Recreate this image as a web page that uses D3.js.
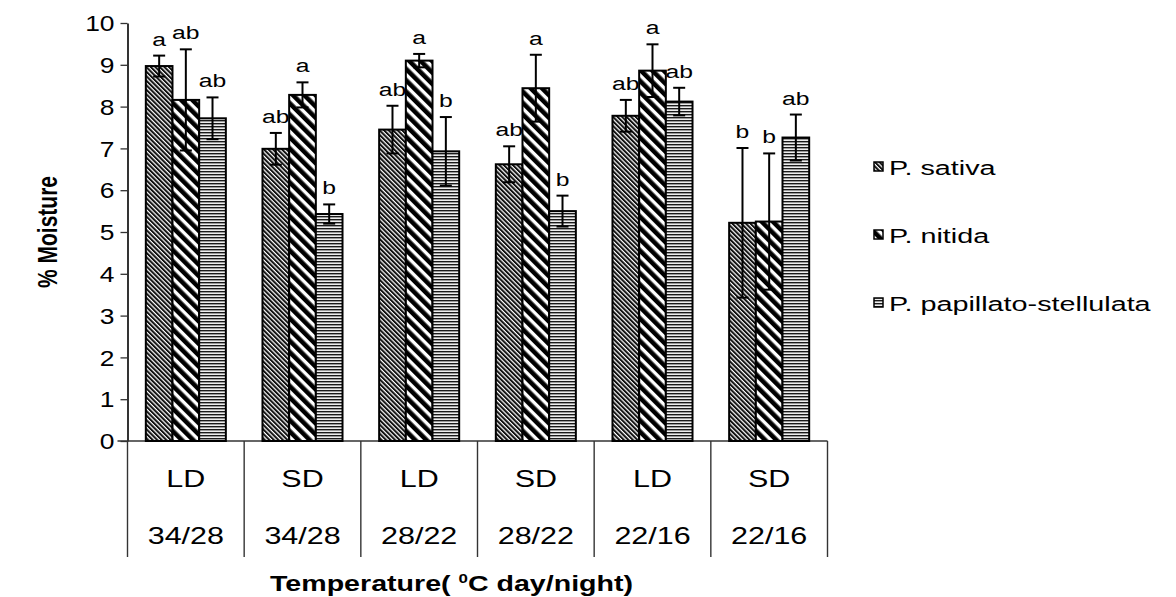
<!DOCTYPE html>
<html>
<head>
<meta charset="utf-8">
<script src="https://cdn.jsdelivr.net/npm/d3@7/dist/d3.min.js"></script>
<style>
  html, body { margin: 0; padding: 0; background: #fff; }
  svg { display: block; }
  text { font-family: "Liberation Sans", Arial, sans-serif; fill: #000; }
</style>
</head>
<body>
<svg id="chart" width="1176" height="597"></svg>
<script>
// Moisture content (%) by photoperiod and day/night temperature
const photoperiods = ["LD", "SD", "LD", "SD", "LD", "SD"];
const temperatures = ["34/28", "34/28", "28/22", "28/22", "22/16", "22/16"];
const seriesNames = ["P. sativa", "P. nitida", "P. papillato-stellulata"];

const sativa       = [8.97, 6.99, 7.45, 6.62, 7.78, 5.22];
const sativaErr    = [0.25, 0.38, 0.57, 0.43, 0.38, 1.79];
const nitida       = [8.16, 8.28, 9.10, 8.44, 8.86, 5.25];
const nitidaErr    = [1.21, 0.30, 0.16, 0.80, 0.63, 1.63];
const papillato    = [7.72, 5.43, 6.93, 5.50, 8.12, 7.26];
const papillatoErr = [0.50, 0.23, 0.82, 0.37, 0.33, 0.55];

const sativaLetters    = ["a", "ab", "ab", "ab", "ab", "b"];
const nitidaLetters    = ["ab", "a", "a", "a", "a", "b"];
const papillatoLetters = ["ab", "b", "b", "b", "ab", "ab"];

const yTicks = [0, 1, 2, 3, 4, 5, 6, 7, 8, 9, 10];

const seriesValues  = [sativa, nitida, papillato];
const seriesErrors  = [sativaErr, nitidaErr, papillatoErr];
const seriesLetters = [sativaLetters, nitidaLetters, papillatoLetters];
const patternIds = ["pat-sativa", "pat-nitida", "pat-papillato"];

const svg = d3.select("#chart");
const plot = { left: 127.5, right: 827.5, top: 23, bottom: 441 };

// Text is drawn slightly wide, so each label gets a horizontal stretch
function wideText(sel, x, y, sx, rotate) {
  sel.attr("transform", `translate(${x},${y})` + (rotate ? ` rotate(${rotate})` : "") + ` scale(${sx},1)`);
}

// ---------- fill patterns ----------
const defs = svg.append("defs");

// fine dense diagonal hatch
const p1 = defs.append("pattern").attr("id", patternIds[0])
  .attr("patternUnits", "userSpaceOnUse").attr("width", 3.2).attr("height", 10)
  .attr("patternTransform", "rotate(-45)");
p1.append("rect").attr("width", 3.2).attr("height", 10).attr("fill", "#fff");
p1.append("rect").attr("width", 2.0).attr("height", 10).attr("fill", "#111");

// wide diagonal stripes
const p2 = defs.append("pattern").attr("id", patternIds[1])
  .attr("patternUnits", "userSpaceOnUse").attr("width", 8).attr("height", 10)
  .attr("patternTransform", "rotate(-45)");
p2.append("rect").attr("width", 8).attr("height", 10).attr("fill", "#fff");
p2.append("rect").attr("width", 4.6).attr("height", 10).attr("fill", "#000");

// horizontal fine lines on grey
const p3 = defs.append("pattern").attr("id", patternIds[2])
  .attr("patternUnits", "userSpaceOnUse").attr("width", 10).attr("height", 3);
p3.append("rect").attr("width", 10).attr("height", 3).attr("fill", "#9a9a9a");
p3.append("rect").attr("width", 10).attr("height", 1).attr("fill", "#1a1a1a");
p3.append("rect").attr("y", 2).attr("width", 10).attr("height", 1).attr("fill", "#eee");

// ---------- scales ----------
const catKeys = photoperiods.map((p, i) => i);
const x0 = d3.scaleBand().domain(catKeys).range([plot.left, plot.right])
  .paddingInner(0.314).paddingOuter(0.157);
const x1 = d3.scaleBand().domain(d3.range(seriesNames.length)).range([0, x0.bandwidth()]);
const y = d3.scaleLinear().domain([0, 10]).range([plot.bottom, plot.top]);

// ---------- y axis ----------
const yAxis = svg.append("g").attr("transform", `translate(${plot.left},0)`)
  .call(d3.axisLeft(y).tickValues(yTicks).tickSize(7).tickSizeOuter(0).tickFormat(d3.format("d")));
yAxis.select(".domain").attr("stroke", "#000").attr("stroke-width", 1.6);
yAxis.selectAll(".tick line").attr("stroke", "#333").attr("stroke-width", 1.3);
yAxis.selectAll(".tick text").each(function (d) {
  const t = d3.select(this);
  t.attr("x", null).attr("dy", null).attr("text-anchor", "end")
    .attr("dominant-baseline", "central")
    .style("font-size", "22px").style("font-family", "Liberation Sans, Arial, sans-serif");
  wideText(t, -13, 0, 1.2);
});

// ---------- category axis (two rows of labels in boxes) ----------
const xAxisG = svg.append("g");
xAxisG.append("line")
  .attr("x1", plot.left - 10).attr("x2", plot.right)
  .attr("y1", plot.bottom).attr("y2", plot.bottom)
  .attr("stroke", "#333").attr("stroke-width", 1.6);

const step = x0.step();
const boundaries = catKeys.map(k => x0(k) - x0.paddingOuter() * step).concat([plot.right]);
xAxisG.selectAll("line.sep").data(boundaries).join("line").attr("class", "sep")
  .attr("x1", d => d).attr("x2", d => d)
  .attr("y1", plot.bottom).attr("y2", 557)
  .attr("stroke", "#333").attr("stroke-width", 1.4);

xAxisG.selectAll("text.period").data(catKeys).join("text").attr("class", "period")
  .attr("text-anchor", "middle").style("font-size", "24px")
  .text(d => photoperiods[d])
  .each(function (d) { wideText(d3.select(this), x0(d) + x0.bandwidth() / 2, 487, 1.27); });

xAxisG.selectAll("text.temp").data(catKeys).join("text").attr("class", "temp")
  .attr("text-anchor", "middle").style("font-size", "24px")
  .text(d => temperatures[d])
  .each(function (d) { wideText(d3.select(this), x0(d) + x0.bandwidth() / 2, 544, 1.27); });

// ---------- bars ----------
const groups = svg.append("g").selectAll("g").data(catKeys).join("g")
  .attr("transform", d => `translate(${x0(d)},0)`);

const cells = groups.selectAll("g.cell")
  .data(c => seriesNames.map((s, si) => ({
    si, v: seriesValues[si][c], e: seriesErrors[si][c], l: seriesLetters[si][c]
  })))
  .join("g").attr("class", "cell");

cells.append("rect")
  .attr("x", d => x1(d.si)).attr("width", x1.bandwidth())
  .attr("y", d => y(d.v)).attr("height", d => y(0) - y(d.v))
  .attr("fill", d => `url(#${patternIds[d.si]})`)
  .attr("stroke", "#000").attr("stroke-width", 2);

// error bars
const capHalf = 6;
cells.append("line")
  .attr("x1", d => x1(d.si) + x1.bandwidth() / 2).attr("x2", d => x1(d.si) + x1.bandwidth() / 2)
  .attr("y1", d => y(d.v + d.e)).attr("y2", d => y(d.v - d.e))
  .attr("stroke", "#000").attr("stroke-width", 2);
cells.append("line")
  .attr("x1", d => x1(d.si) + x1.bandwidth() / 2 - capHalf).attr("x2", d => x1(d.si) + x1.bandwidth() / 2 + capHalf)
  .attr("y1", d => y(d.v + d.e)).attr("y2", d => y(d.v + d.e))
  .attr("stroke", "#000").attr("stroke-width", 2);
cells.append("line")
  .attr("x1", d => x1(d.si) + x1.bandwidth() / 2 - capHalf).attr("x2", d => x1(d.si) + x1.bandwidth() / 2 + capHalf)
  .attr("y1", d => y(d.v - d.e)).attr("y2", d => y(d.v - d.e))
  .attr("stroke", "#000").attr("stroke-width", 2);

// significance letters
cells.append("text")
  .attr("text-anchor", "middle").style("font-size", "19px")
  .text(d => d.l)
  .each(function (d) {
    wideText(d3.select(this), x1(d.si) + x1.bandwidth() / 2, y(d.v + d.e) - 10, 1.3);
  });

// ---------- axis titles ----------
const yTitle = svg.append("text").attr("text-anchor", "middle")
  .style("font-size", "21px").style("font-weight", "bold").text("% Moisture");
yTitle.attr("transform", "translate(57,232) rotate(-90) scale(1,1.3)");

const xTitle = svg.append("text").attr("text-anchor", "start")
  .style("font-size", "22px").style("font-weight", "bold");
xTitle.append("tspan").text("Temperature( ");
xTitle.append("tspan").attr("dy", -8).style("font-size", "13px").text("0");
xTitle.append("tspan").attr("dy", 8).text("C day/night)");
wideText(xTitle, 270, 591, 1.3);

// ---------- legend ----------
const legend = svg.append("g").selectAll("g").data(seriesNames).join("g")
  .attr("transform", (d, i) => `translate(874,${167 + i * 68})`);
legend.append("rect")
  .attr("x", 0).attr("y", -5).attr("width", 9).attr("height", 9)
  .attr("fill", (d, i) => `url(#${patternIds[i]})`)
  .attr("stroke", "#000").attr("stroke-width", 1.5);
legend.append("text").attr("dominant-baseline", "central")
  .style("font-size", "21px").text(d => d)
  .each(function () { wideText(d3.select(this), 15, 0, 1.37); });
</script>
</body>
</html>
